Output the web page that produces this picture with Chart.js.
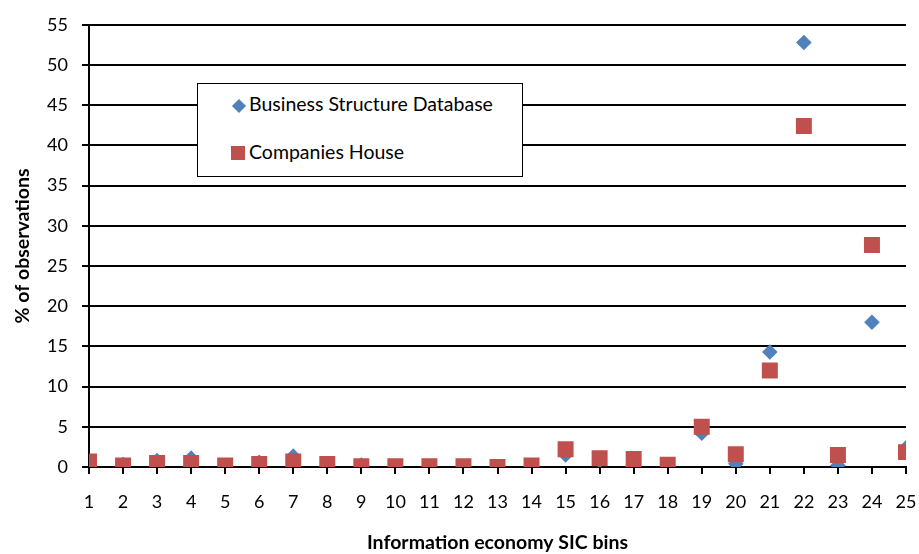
<!DOCTYPE html>
<html>
<head>
<meta charset="utf-8">
<script src="https://cdn.jsdelivr.net/npm/chart.js@4"></script>
<style>
  html, body { margin: 0; padding: 0; background: #fff; }
  #wrap { position: relative; width: 919px; height: 554px; }
  #legend {
    position: absolute; left: 197px; top: 83px; width: 324px; height: 92px;
    border: 1px solid #000; background: #fff;
    font-family: Lato, 'Open Sans', sans-serif; font-size: 19.5px; line-height: 24px; color: #000;
  }
  #legend span { position: absolute; white-space: nowrap; }
  .diamond { left: 36px; top: 17px; width: 10px; height: 10px; background: #4F81BD; transform: rotate(45deg); }
  .square { left: 33px; top: 62px; width: 14px; height: 14px; background: #C0504D; }
</style>
</head>
<body>
<div id="wrap">
  <canvas id="chart" width="919" height="554"></canvas>
  <div id="legend">
    <span class="diamond"></span>
    <span style="left:51px; top:8px">Business Structure Database</span>
    <span class="square"></span>
    <span style="left:51px; top:56px">Companies House</span>
  </div>
</div>
<script>
// SIC bins
const bins = [1, 2, 3, 4, 5, 6, 7, 8, 9, 10, 11, 12, 13, 14, 15, 16, 17, 18, 19, 20, 21, 22, 23, 24, 25];

// % of observations
const businessStructure = [0.37, 0.3, 0.8, 1.1, 0.15, 0.6, 1.35, 0.2, 0.25, 0, 0, 0, 0, 0.1, 1.5, 0.8, 0.7, 0.1, 4.2, 0.4, 14.3, 52.8, 0.2, 18.0, 2.4];
const companiesHouse = [0.7, 0.2, 0.5, 0.5, 0.18, 0.37, 0.7, 0.37, 0.08, 0.08, 0.1, 0.1, 0, 0.2, 2.2, 1.1, 1.0, 0.28, 5.0, 1.6, 12.0, 42.4, 1.5, 27.6, 1.85];

const toPoints = vals => bins.map((b, i) => ({ x: b, y: vals[i] }));

const fontFamily = "Lato, 'Open Sans', sans-serif";

new Chart(document.getElementById('chart'), {
  type: 'scatter',
  data: {
    datasets: [
      {
        label: 'Companies House',
        data: toPoints(companiesHouse),
        pointStyle: 'rect',
        pointRadius: 11.3,
        pointHoverRadius: 11.3,
        backgroundColor: '#C0504D',
        borderWidth: 0
      },
      {
        label: 'Business Structure Database',
        data: toPoints(businessStructure),
        pointStyle: 'rectRot',
        pointRadius: 7.8,
        pointHoverRadius: 7.8,
        backgroundColor: '#4F81BD',
        borderWidth: 0
      }
    ]
  },
  options: {
    responsive: false,
    animation: false,
    layout: { padding: { top: 19, right: 13, left: 0, bottom: 0 } },
    plugins: {
      legend: { display: false },
      tooltip: { enabled: false }
    },
    scales: {
      x: {
        type: 'linear',
        min: 1,
        max: 25,
        // fixed height; tick padding should not widen the side margins
        afterFit: s => { s.height = 87; s.paddingLeft = 0; s.paddingRight = 9; },
        ticks: {
          stepSize: 1,
          color: '#000',
          padding: 17,
          font: { family: fontFamily, size: 18 }
        },
        grid: { drawOnChartArea: false, color: '#000', lineWidth: 2, tickLength: 7 },
        border: { color: '#000', width: 2 },
        title: {
          display: true,
          text: 'Information economy SIC bins',
          color: '#000',
          padding: { top: 0, bottom: 0 },
          font: { family: fontFamily, size: 19.5, weight: 'bold' }
        }
      },
      y: {
        min: 0,
        max: 55,
        afterFit: s => { s.width = 89; },
        ticks: {
          stepSize: 5,
          color: '#000',
          padding: 14,
          font: { family: fontFamily, size: 18 }
        },
        grid: { color: '#000', lineWidth: 2, tickLength: 7 },
        border: { color: '#000', width: 2 },
        title: {
          display: true,
          text: '% of observations',
          color: '#000',
          padding: { top: 11, bottom: 0 },
          font: { family: fontFamily, size: 19.5, weight: 'bold' }
        }
      }
    }
  }
});
</script>
</body>
</html>
